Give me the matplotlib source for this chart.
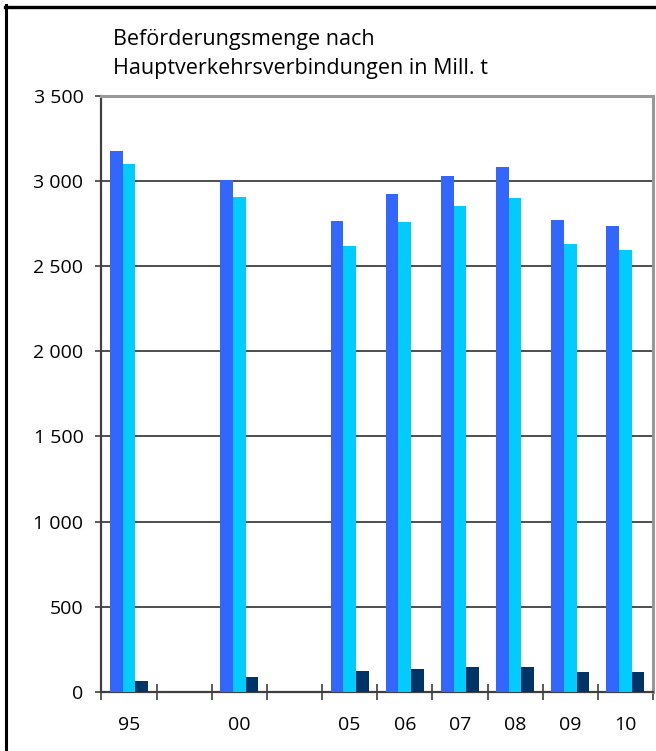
import numpy as np
import matplotlib
matplotlib.use("Agg")
import matplotlib.pyplot as plt
from matplotlib.lines import Line2D
from matplotlib.ticker import FuncFormatter

plt.rcParams['font.family'] = ['Open Sans', 'DejaVu Sans']

# slots on the category axis, empty strings are the gaps
years = ["95", "", "00", "", "05", "06", "07", "08", "09", "10"]
insgesamt = [3174, None, 3004, None, 2764, 2922, 3028, 3081, 2770, 2734]
binnen = [3098, None, 2904, None, 2617, 2758, 2852, 2899, 2628, 2593]
grenz = [66, None, 90, None, 125, 137, 148, 148, 119, 119]

c_blue = "#3366FF"
c_cyan = "#00CCFF"
c_navy = "#003366"

fig = plt.figure(figsize=(6.56, 7.51), dpi=100)
ax = fig.add_axes([0.1547, 0.0786, 0.8407, 0.7942])

x = np.arange(len(years))
w = 0.23
for vals, off, col in [(insgesamt, -w, c_blue), (binnen, 0, c_cyan), (grenz, w, c_navy)]:
    xs = [xi + off for xi, v in zip(x, vals) if v is not None]
    hs = [v for v in vals if v is not None]
    ax.bar(xs, hs, width=w, color=col, zorder=3, linewidth=0)

ax.set_xlim(-0.5, len(years) - 0.5)
ax.set_ylim(0, 3500)
ax.set_yticks(np.arange(0, 3501, 500))
ax.yaxis.set_major_formatter(FuncFormatter(lambda v, p: f"{int(v):,}".replace(",", " ")))
ax.grid(axis='y', color="#404040", linewidth=1.3, zorder=1)

ax.set_xticks(x)
ax.set_xticklabels(years)
ax.set_xticks(np.arange(-0.5, len(years), 1), minor=True)
ax.tick_params(axis='x', which='major', length=0, pad=17, labelsize=14)
ax.tick_params(axis='x', which='minor', direction='inout', length=11, width=1.2, color="#404040")
ax.tick_params(axis='y', direction='out', length=4, width=1.2, color="#404040", pad=9, labelsize=14)

for s in ['left', 'bottom']:
    ax.spines[s].set_color("#404040")
    ax.spines[s].set_linewidth(1.6)
for s in ['top', 'right']:
    ax.spines[s].set_color("#999999")
    ax.spines[s].set_linewidth(2.2)

fig.text(0.172, 1 - 29 / 751, "Beförderungsmenge nach\nHauptverkehrsverbindungen in Mill. t",
         ha='left', va='top', fontsize=15.5, linespacing=1.5)

# black frame at the top and left edge
fig.add_artist(Line2D([5 / 656, 1], [1 - 6.5 / 751] * 2, transform=fig.transFigure, color='black', linewidth=2.4))
fig.add_artist(Line2D([6 / 656] * 2, [0, 1 - 5 / 751], transform=fig.transFigure, color='black', linewidth=2.2))

fig.savefig("out.png", dpi=100)
